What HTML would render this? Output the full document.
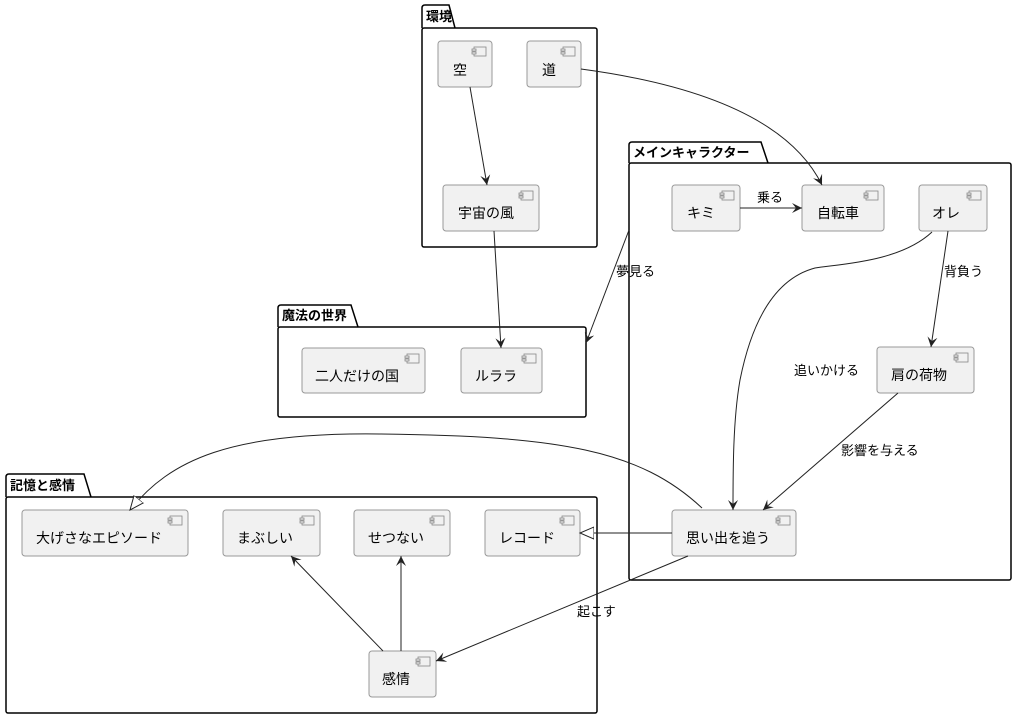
<!DOCTYPE html>
<html><head><meta charset="utf-8"><style>
html,body{margin:0;padding:0;background:#fff;}
svg{display:block;font-family:"Liberation Sans","Noto Sans CJK JP",sans-serif;}
.pk{fill:none;stroke:#000;stroke-width:1.5;}
.nd{fill:#f1f1f1;stroke:#999;stroke-width:1;}
.ic{fill:#f1f1f1;stroke:#888;stroke-width:0.8;}
.e{fill:none;stroke:#222;stroke-width:1;}
.t{font-size:14px;fill:#000;}
.pt{font-size:13px;font-weight:bold;fill:#000;}
.l{font-size:13px;fill:#000;}
</style></head><body>
<svg width="1018" height="720" viewBox="0 0 1018 720">
<defs>
<marker id="a" markerWidth="12" markerHeight="12" refX="10" refY="5" orient="auto" markerUnits="userSpaceOnUse">
<path d="M0,0 L10,5 L0,10 L4,5 Z" fill="#222"/></marker>
<marker id="h" markerWidth="16" markerHeight="16" refX="14" refY="7" orient="auto" markerUnits="userSpaceOnUse">
<path d="M0,1 L14,7 L0,13 Z" fill="#fff" stroke="#222"/></marker>
</defs>

<path class="pk" d="M422,28 L422,8 Q422,5 425,5 L449,5 L455,28"/>
<rect class="pk" x="422" y="28" width="175" height="219" rx="2"/>
<text class="pt" x="426" y="21">環境</text>

<path class="pk" d="M629,163 L629,145 Q629,142 632,142 L761,142 L768,163"/>
<rect class="pk" x="629" y="163" width="382" height="417" rx="2"/>
<text class="pt" x="633" y="157">メインキャラクター</text>

<path class="pk" d="M278,327 L278,308 Q278,305 281,305 L351,305 L358,327"/>
<rect class="pk" x="278" y="327" width="308" height="90" rx="2"/>
<text class="pt" x="282" y="320">魔法の世界</text>

<path class="pk" d="M6,497 L6,477 Q6,474 9,474 L84,474 L91,497"/>
<rect class="pk" x="6" y="497" width="591" height="216" rx="2"/>
<text class="pt" x="10" y="490">記憶と感情</text>

<g>
<rect class="nd" x="438" y="41" width="54" height="46" rx="3"/><text class="t" x="460" y="75" text-anchor="middle">空</text>
<rect class="nd" x="527" y="41" width="54" height="46" rx="3"/><text class="t" x="549" y="75" text-anchor="middle">道</text>
<rect class="nd" x="443" y="185" width="96" height="46" rx="3"/><text class="t" x="486" y="218" text-anchor="middle">宇宙の風</text>
<rect class="nd" x="672" y="185" width="68" height="46" rx="3"/><text class="t" x="701" y="218" text-anchor="middle">キミ</text>
<rect class="nd" x="802" y="185" width="82" height="46" rx="3"/><text class="t" x="838" y="218" text-anchor="middle">自転車</text>
<rect class="nd" x="919" y="185" width="68" height="46" rx="3"/><text class="t" x="946" y="218" text-anchor="middle">オレ</text>
<rect class="nd" x="877" y="347" width="97" height="46" rx="3"/><text class="t" x="919" y="380" text-anchor="middle">肩の荷物</text>
<rect class="nd" x="672" y="510" width="124" height="46" rx="3"/><text class="t" x="728" y="543" text-anchor="middle">思い出を追う</text>
<rect class="nd" x="302" y="348" width="123" height="45" rx="3"/><text class="t" x="357" y="381" text-anchor="middle">二人だけの国</text>
<rect class="nd" x="461" y="348" width="81" height="45" rx="3"/><text class="t" x="496" y="381" text-anchor="middle">ルララ</text>
<rect class="nd" x="22" y="510" width="166" height="46" rx="3"/><text class="t" x="99" y="543" text-anchor="middle">大げさなエピソード</text>
<rect class="nd" x="223" y="510" width="97" height="46" rx="3"/><text class="t" x="265" y="543" text-anchor="middle">まぶしい</text>
<rect class="nd" x="354" y="510" width="96" height="46" rx="3"/><text class="t" x="396" y="543" text-anchor="middle">せつない</text>
<rect class="nd" x="485" y="510" width="95" height="46" rx="3"/><text class="t" x="527" y="543" text-anchor="middle">レコード</text>
<rect class="nd" x="369" y="651" width="67" height="46" rx="3"/><text class="t" x="396" y="684" text-anchor="middle">感情</text>
</g>
<g>
<g transform="translate(492,41)"><rect class="ic" x="-18" y="6" width="12" height="9"/><rect class="ic" x="-20" y="8" width="4" height="2"/><rect class="ic" x="-20" y="11" width="4" height="2"/></g>
<g transform="translate(581,41)"><rect class="ic" x="-18" y="6" width="12" height="9"/><rect class="ic" x="-20" y="8" width="4" height="2"/><rect class="ic" x="-20" y="11" width="4" height="2"/></g>
<g transform="translate(539,185)"><rect class="ic" x="-18" y="6" width="12" height="9"/><rect class="ic" x="-20" y="8" width="4" height="2"/><rect class="ic" x="-20" y="11" width="4" height="2"/></g>
<g transform="translate(740,185)"><rect class="ic" x="-18" y="6" width="12" height="9"/><rect class="ic" x="-20" y="8" width="4" height="2"/><rect class="ic" x="-20" y="11" width="4" height="2"/></g>
<g transform="translate(884,185)"><rect class="ic" x="-18" y="6" width="12" height="9"/><rect class="ic" x="-20" y="8" width="4" height="2"/><rect class="ic" x="-20" y="11" width="4" height="2"/></g>
<g transform="translate(987,185)"><rect class="ic" x="-18" y="6" width="12" height="9"/><rect class="ic" x="-20" y="8" width="4" height="2"/><rect class="ic" x="-20" y="11" width="4" height="2"/></g>
<g transform="translate(974,347)"><rect class="ic" x="-18" y="6" width="12" height="9"/><rect class="ic" x="-20" y="8" width="4" height="2"/><rect class="ic" x="-20" y="11" width="4" height="2"/></g>
<g transform="translate(796,510)"><rect class="ic" x="-18" y="6" width="12" height="9"/><rect class="ic" x="-20" y="8" width="4" height="2"/><rect class="ic" x="-20" y="11" width="4" height="2"/></g>
<g transform="translate(425,348)"><rect class="ic" x="-18" y="6" width="12" height="9"/><rect class="ic" x="-20" y="8" width="4" height="2"/><rect class="ic" x="-20" y="11" width="4" height="2"/></g>
<g transform="translate(542,348)"><rect class="ic" x="-18" y="6" width="12" height="9"/><rect class="ic" x="-20" y="8" width="4" height="2"/><rect class="ic" x="-20" y="11" width="4" height="2"/></g>
<g transform="translate(188,510)"><rect class="ic" x="-18" y="6" width="12" height="9"/><rect class="ic" x="-20" y="8" width="4" height="2"/><rect class="ic" x="-20" y="11" width="4" height="2"/></g>
<g transform="translate(320,510)"><rect class="ic" x="-18" y="6" width="12" height="9"/><rect class="ic" x="-20" y="8" width="4" height="2"/><rect class="ic" x="-20" y="11" width="4" height="2"/></g>
<g transform="translate(450,510)"><rect class="ic" x="-18" y="6" width="12" height="9"/><rect class="ic" x="-20" y="8" width="4" height="2"/><rect class="ic" x="-20" y="11" width="4" height="2"/></g>
<g transform="translate(580,510)"><rect class="ic" x="-18" y="6" width="12" height="9"/><rect class="ic" x="-20" y="8" width="4" height="2"/><rect class="ic" x="-20" y="11" width="4" height="2"/></g>
<g transform="translate(436,651)"><rect class="ic" x="-18" y="6" width="12" height="9"/><rect class="ic" x="-20" y="8" width="4" height="2"/><rect class="ic" x="-20" y="11" width="4" height="2"/></g>
</g>

<path class="e" d="M470,87 L487,185" marker-end="url(#a)"/>
<path class="e" d="M581,69 C700,85 790,120 822,185" marker-end="url(#a)"/>
<path class="e" d="M740,208 L802,208" marker-end="url(#a)"/>
<text class="l" x="757" y="202">乗る</text>
<path class="e" d="M494,231 L501,348" marker-end="url(#a)"/>
<path class="e" d="M629,230 L586,343" marker-end="url(#a)"/>
<text class="l" x="616" y="276">夢見る</text>
<path class="e" d="M948,231 L931,347" marker-end="url(#a)"/>
<text class="l" x="944" y="276">背負う</text>
<path class="e" d="M932,232 C900,262 840,264 815,268 C770,280 750,330 740,380 C733,420 733,470 733,510" marker-end="url(#a)"/>
<text class="l" x="794" y="375">追いかける</text>
<path class="e" d="M898,393 L763,510" marker-end="url(#a)"/>
<text class="l" x="841" y="455">影響を与える</text>
<path class="e" d="M672,533 L580,533" marker-end="url(#h)"/>
<path class="e" d="M702,508 C640,450 560,436 380,434 C230,432 170,460 130,510" marker-end="url(#h)"/>
<path class="e" d="M688,556 L436,661" marker-end="url(#a)"/>
<text class="l" x="577" y="616">起こす</text>
<path class="e" d="M383,651 L291,556" marker-end="url(#a)"/>
<path class="e" d="M401,651 L401,556" marker-end="url(#a)"/>
</svg>
</body></html>
